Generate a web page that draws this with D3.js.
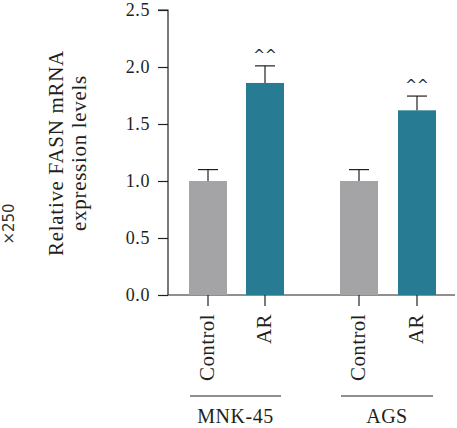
<!DOCTYPE html>
<html><head><meta charset="utf-8">
<script src="https://cdn.jsdelivr.net/npm/d3@7"></script>
<style>body{margin:0;background:#fff}svg{display:block}</style>
</head><body>
<script>
const categories = ["Control","AR","Control","AR"];
const groups = ["MNK-45","AGS"];
const groupOf = [0,0,1,1];
const values = [1.0, 1.86, 1.0, 1.62];
const errors = [0.10, 0.15, 0.10, 0.125];
const annotations = ["", "^^", "", "^^"];
const yTicks = [0,0.5,1.0,1.5,2.0,2.5];
const colors = ["#a4a3a6","#277b92","#a4a3a6","#277b92"];

const W=457,H=428;
const svg=d3.select("body").append("svg").attr("width",W).attr("height",H);
const y=d3.scaleLinear().domain([0,2.5]).range([295,10]);
const x=d3.scaleOrdinal().domain([0,1,2,3]).range([208,265,359,417]);
const bw=38;
const font="Liberation Serif, Times New Roman, serif";
const tc="#231f20";

// y axis
const ya=svg.append("g").attr("transform","translate(168,0)")
  .call(d3.axisLeft(y).tickValues(yTicks).tickFormat(d3.format(".1f")).tickSize(10).tickPadding(8));
ya.select(".domain").attr("stroke",tc).attr("stroke-width",1.2).attr("d","M-10,"+y(2.5)+"H0V"+y(0));
ya.selectAll(".tick line").attr("stroke",tc).attr("stroke-width",1.2);
ya.selectAll("text").attr("font-family",font).attr("font-size",18).attr("letter-spacing",0.6).attr("fill",tc);

// x axis line
svg.append("line").attr("x1",168).attr("x2",455).attr("y1",y(0)).attr("y2",y(0)).attr("stroke",tc).attr("stroke-width",1.2);

// bars
svg.selectAll("rect.bar").data(values).enter().append("rect")
  .attr("x",(d,i)=>x(i)-bw/2).attr("width",bw)
  .attr("y",d=>y(d)).attr("height",d=>y(0)-y(d)).attr("fill",(d,i)=>colors[i]);

// error bars, ticks, labels
values.forEach((v,i)=>{
  const cx=x(i), top=y(v+errors[i]);
  const g=svg.append("g").attr("stroke",tc).attr("stroke-width",1.2);
  g.append("line").attr("x1",cx).attr("x2",cx).attr("y1",y(v)).attr("y2",top);
  g.append("line").attr("x1",cx-10).attr("x2",cx+10).attr("y1",top).attr("y2",top);
  if(annotations[i]) svg.append("text").attr("x",cx).attr("y",top-6)
    .attr("text-anchor","middle").attr("font-family","DejaVu Sans, sans-serif").attr("font-size",14).attr("fill",tc).text(annotations[i]);
  svg.append("line").attr("x1",cx).attr("x2",cx).attr("y1",y(0)).attr("y2",y(0)+11).attr("stroke",tc).attr("stroke-width",1.2);
  svg.append("text").attr("transform",`translate(${cx+6},${y(0)+19}) rotate(-90)`)
    .attr("text-anchor","end").attr("font-family",font).attr("font-size",21).attr("letter-spacing",0.4).attr("fill",tc).text(categories[i]);
});

// group lines and labels
groups.forEach((gname,gi)=>{
  const idx=[0,1,2,3].filter(i=>groupOf[i]===gi);
  const lx1=x(idx[0])-bw/2+1, lx2=x(idx[idx.length-1])+bw/2-3;
  svg.append("line").attr("x1",lx1).attr("x2",lx2).attr("y1",396).attr("y2",396).attr("stroke",tc).attr("stroke-width",1.2);
  svg.append("text").attr("x",(lx1+lx2)/2).attr("y",423).attr("text-anchor","middle")
    .attr("font-family",font).attr("font-size",20).attr("letter-spacing",0.5).attr("fill",tc).text(gname);
});

// y title
const yt=svg.append("text").attr("transform","translate(0,153) rotate(-90)")
  .attr("text-anchor","middle").attr("font-family",font).attr("font-size",21).attr("letter-spacing",0.7).attr("fill",tc);
yt.append("tspan").attr("x",0).attr("y",63).text("Relative FASN mRNA");
yt.append("tspan").attr("x",0).attr("y",86).text("expression levels");

// stray label at left
svg.append("text").attr("transform","translate(14,224) rotate(-90)").attr("text-anchor","middle")
  .attr("font-family","DejaVu Sans, sans-serif").attr("font-size",15).attr("fill","#333").text("×250");
</script>
</body></html>
